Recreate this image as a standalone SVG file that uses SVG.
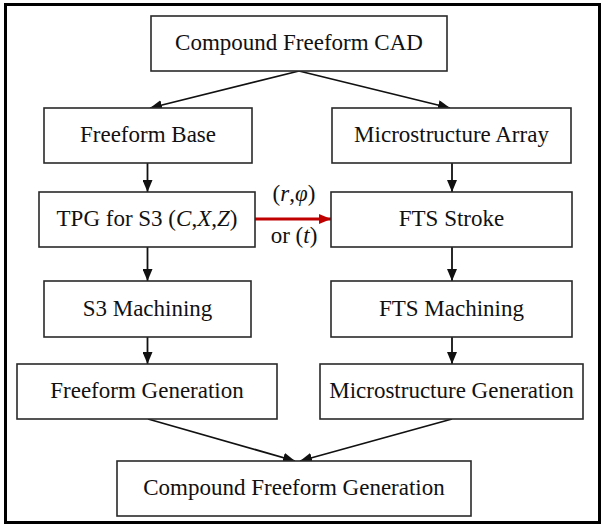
<svg xmlns="http://www.w3.org/2000/svg" width="604" height="526" viewBox="0 0 604 526">
  <style>
    .box { fill: #ffffff; stroke: #2a2a2a; stroke-width: 1.6; }
    .lbl { font-family: "Liberation Serif", "Times New Roman", serif; font-size: 23px; fill: #111; text-anchor: middle; }
    .it { font-style: italic; }
    .edge { stroke: #111; stroke-width: 1.8; fill: none; marker-end: url(#arrow); }
    .edge-red { stroke: #c00000; stroke-width: 3.2; fill: none; marker-end: url(#arrowRed); }
  </style>
  <defs>
    <marker id="arrow" viewBox="0 0 12 10" refX="12" refY="5" markerWidth="12" markerHeight="10" markerUnits="userSpaceOnUse" orient="auto">
      <path d="M0,0 L12,5 L0,10 Z" fill="#111"/>
    </marker>
    <marker id="arrowRed" viewBox="0 0 12 10" refX="12" refY="5" markerWidth="12" markerHeight="10" markerUnits="userSpaceOnUse" orient="auto">
      <path d="M0,0 L12,5 L0,10 Z" fill="#c00000"/>
    </marker>
  </defs>

  <rect x="0" y="0" width="604" height="526" fill="#ffffff"/>
  <!-- outer frame -->
  <rect x="5.5" y="4.5" width="594" height="518" fill="none" stroke="#000" stroke-width="3"/>

  <g id="connectors">
    <line class="edge" x1="299" y1="71" x2="150" y2="108"/>
    <line class="edge" x1="299" y1="71" x2="450" y2="108"/>
    <line class="edge" x1="147.5" y1="163" x2="147.5" y2="192"/>
    <line class="edge" x1="452" y1="163" x2="452" y2="192"/>
    <line class="edge" x1="147.5" y1="247" x2="147.5" y2="281"/>
    <line class="edge" x1="452" y1="247" x2="452" y2="281"/>
    <line class="edge" x1="147.5" y1="337" x2="147.5" y2="364"/>
    <line class="edge" x1="452" y1="337" x2="452" y2="364"/>
    <line class="edge" x1="148" y1="419" x2="295" y2="461"/>
    <line class="edge" x1="452" y1="419" x2="300" y2="461"/>
    <line class="edge-red" x1="255" y1="219" x2="331" y2="219"/>
    <text class="lbl" x="294" y="201">(<tspan class="it">r</tspan>,<tspan class="it">φ</tspan>)</text>
    <text class="lbl" x="294" y="243">or (<tspan class="it">t</tspan>)</text>
  </g>

  <g id="cad">
    <rect class="box" x="151" y="16" width="296" height="55"/>
    <text class="lbl" x="299" y="50">Compound Freeform CAD</text>
  </g>
  <g id="freeform-base">
    <rect class="box" x="44" y="108" width="208" height="55"/>
    <text class="lbl" x="148" y="142">Freeform Base</text>
  </g>
  <g id="microstructure-array">
    <rect class="box" x="332" y="108" width="239" height="55"/>
    <text class="lbl" x="451.5" y="142">Microstructure Array</text>
  </g>
  <g id="tpg">
    <rect class="box" x="39" y="192" width="216" height="55"/>
    <text class="lbl" x="147" y="226">TPG for S3 (<tspan class="it">C</tspan>,<tspan class="it">X</tspan>,<tspan class="it">Z</tspan>)</text>
  </g>
  <g id="fts-stroke">
    <rect class="box" x="331" y="192" width="241" height="55"/>
    <text class="lbl" x="451.5" y="226">FTS Stroke</text>
  </g>
  <g id="s3-machining">
    <rect class="box" x="44" y="281" width="207" height="56"/>
    <text class="lbl" x="147.5" y="315.5">S3 Machining</text>
  </g>
  <g id="fts-machining">
    <rect class="box" x="331" y="281" width="241" height="56"/>
    <text class="lbl" x="451.5" y="315.5">FTS Machining</text>
  </g>
  <g id="freeform-generation">
    <rect class="box" x="17" y="364" width="260" height="55"/>
    <text class="lbl" x="147" y="398">Freeform Generation</text>
  </g>
  <g id="microstructure-generation">
    <rect class="box" x="320" y="364" width="263" height="55"/>
    <text class="lbl" x="451.5" y="398">Microstructure Generation</text>
  </g>
  <g id="compound-generation">
    <rect class="box" x="117" y="461" width="354" height="55"/>
    <text class="lbl" x="294" y="495">Compound Freeform Generation</text>
  </g>
</svg>
